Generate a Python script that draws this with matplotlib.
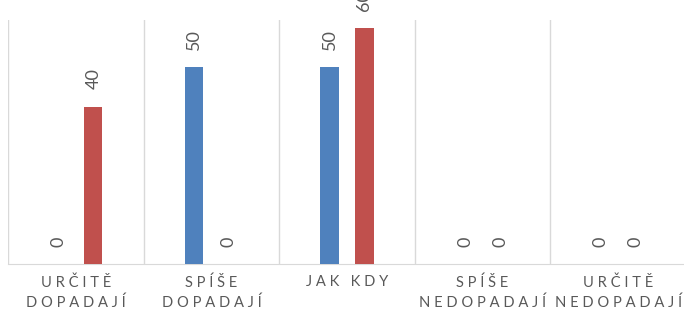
import matplotlib
matplotlib.use('Agg')
import matplotlib.pyplot as plt
import numpy as np

categories = ['URČITĚ\nDOPADAJÍ', 'SPÍŠE\nDOPADAJÍ', 'JAK KDY', 'SPÍŠE\nNEDOPADAJÍ', 'URČITĚ\nNEDOPADAJÍ']
series_blue = [0, 50, 50, 0, 0]
series_red = [40, 0, 60, 0, 0]

BLUE = '#4F81BD'
RED = '#C0504D'
GRID = '#D9D9D9'
TEXT = '#595959'

plt.rcParams['font.family'] = ['Lato', 'DejaVu Sans']


def spaced(label):
    # imitate Excel's letter spacing
    lines = []
    for line in label.split('\n'):
        words = [(' '.join(w)) for w in line.split(' ')]
        lines.append('   '.join(words))
    return '\n'.join(lines)


def main():
    fig = plt.figure(figsize=(6.84, 3.2), dpi=100)
    ax = fig.add_axes([8 / 684, 56 / 320, 678 / 684, 244 / 320])

    x = np.arange(len(categories))
    w = 0.135
    off = 0.129
    b1 = ax.bar(x - off, series_blue, w, color=BLUE, zorder=3)
    b2 = ax.bar(x + off, series_red, w, color=RED, zorder=3)

    for bars in (b1, b2):
        for rect in bars:
            h = rect.get_height()
            ax.annotate(str(int(h)), (rect.get_x() + rect.get_width() / 2, h),
                        xytext=(0, 12.5), textcoords='offset points',
                        rotation=90, ha='center', va='bottom',
                        fontsize=13, color=TEXT, annotation_clip=False)

    ax.set_xlim(-0.5, len(categories) - 0.5)
    ax.set_ylim(0, 62)
    for xs in np.arange(-0.5, len(categories), 1.0):
        ax.axvline(xs, color=GRID, lw=1, zorder=1)

    for s in ['top', 'right', 'left']:
        ax.spines[s].set_visible(False)
    ax.spines['bottom'].set_color(GRID)
    ax.set_yticks([])
    ax.set_xticks(x)
    ax.set_xticklabels([spaced(c) for c in categories], fontsize=10.6,
                       color=TEXT, linespacing=1.5, va='top')
    ax.tick_params(axis='x', length=0, pad=8)

    fig.savefig('out.png', dpi=100)


if __name__ == '__main__':
    main()
